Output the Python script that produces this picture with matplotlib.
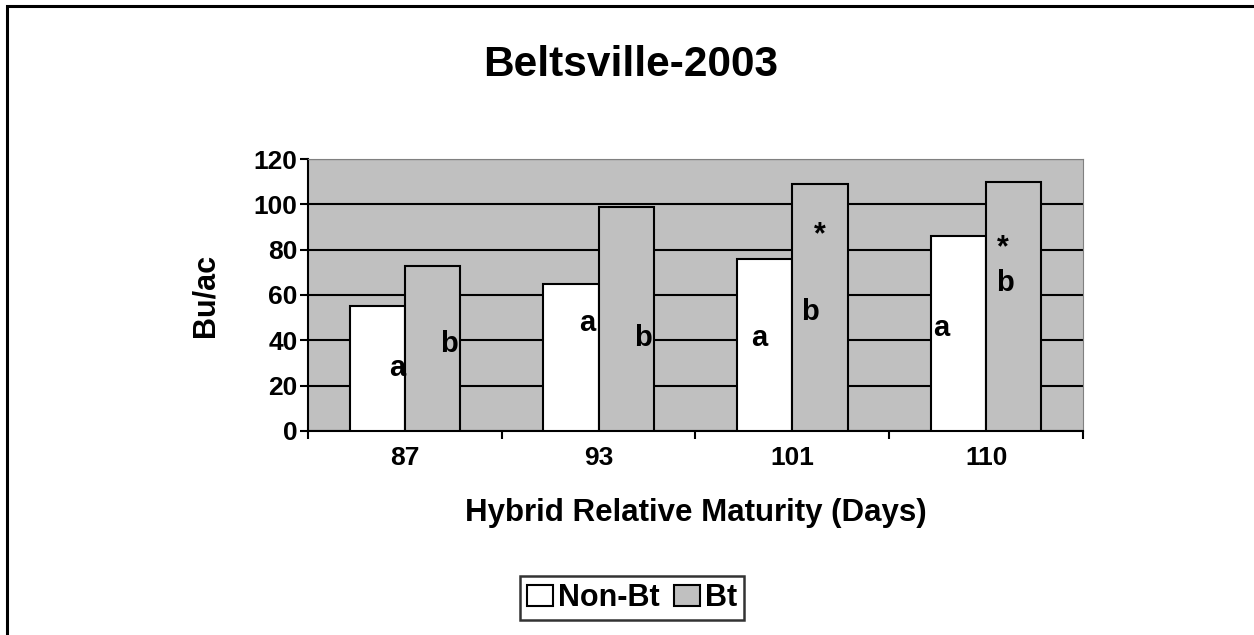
import numpy as np
import matplotlib.pyplot as plt
from matplotlib.patches import Rectangle

plt.rcParams['font.family'] = ['Liberation Sans', 'DejaVu Sans']
plt.rcParams['font.weight'] = 'bold'

maturity = ['87', '93', '101', '110']
non_bt = [55, 65, 76, 86]
bt = [73, 99, 109, 110]

# letters / stars written inside the bars: (x offset from group centre, y value, text)
non_bt_marks = [(-0.04, 27.8, 'a'), (-0.06, 47.5, 'a'), (-0.17, 41, 'a'), (-0.23, 45.4, 'a')]
bt_marks = [(0.23, 38.5, 'b'), (0.23, 41, 'b'), (0.09, 52.5, 'b'), (0.10, 65.3, 'b')]
star_marks = [(2, 0.14, 86.5), (3, 0.085, 80.8)]

fig = plt.figure(figsize=(12.54, 6.35), dpi=100)
ax = fig.add_axes([0.2456, 0.3213, 0.6180, 0.4283])

x = np.arange(len(maturity))
w = 0.2857
ax.set_facecolor('#C0C0C0')
ax.bar(x - w/2, non_bt, w, color='white', edgecolor='black', linewidth=1.5, label='Non-Bt', zorder=3)
ax.bar(x + w/2, bt, w, color='#C0C0C0', edgecolor='black', linewidth=1.5, label='Bt', zorder=3)

for i, (dx, y, t) in enumerate(non_bt_marks):
    ax.text(i + dx, y, t, ha='center', va='center', fontsize=21, fontweight='bold', zorder=4)
for i, (dx, y, t) in enumerate(bt_marks):
    ax.text(i + dx, y, t, ha='center', va='center', fontsize=21, fontweight='bold', zorder=4)
for i, dx, y in star_marks:
    ax.text(i + dx, y, '*', ha='center', va='center', fontsize=22, fontweight='bold', zorder=4)

ax.set_xlim(-0.5, 3.5)
ax.set_ylim(0, 120)
ax.set_yticks(range(0, 121, 20))
ax.yaxis.grid(True, color='black', linewidth=1.5, zorder=1)
ax.set_axisbelow(True)
ax.set_xticks(x)
ax.set_xticklabels(maturity)
ax.set_xticks(np.arange(-0.5, 4, 1), minor=True)
ax.tick_params(axis='x', which='major', length=0, pad=11, labelsize=19)
ax.tick_params(axis='x', which='minor', length=6, width=1.5, direction='out')
ax.tick_params(axis='y', length=6, width=1.5, direction='out', pad=1.5, labelsize=19)
for lab in ax.get_xticklabels() + ax.get_yticklabels():
    lab.set_fontweight('bold')

ax.spines['left'].set_linewidth(1.5)
ax.spines['bottom'].set_linewidth(1.5)
ax.spines['top'].set_color('#808080')
ax.spines['right'].set_color('#808080')

ax.set_xlabel('Hybrid Relative Maturity (Days)', fontsize=22.5, fontweight='bold', labelpad=20)
ax.set_ylabel('Bu/ac', fontsize=22, fontweight='bold', labelpad=24)
fig.text(0.5025, 0.898, 'Beltsville-2003', ha='center', va='center', fontsize=30.5, fontweight='bold')

leg = fig.legend(loc='center', bbox_to_anchor=(0.5040, 0.058), ncol=2, fontsize=22, frameon=True,
                 fancybox=False, edgecolor='black', handlelength=0.85, handleheight=0.7,
                 handletextpad=0.15, columnspacing=0.5, borderpad=0.22)
leg.get_frame().set_linewidth(1.8)
for t in leg.get_texts():
    t.set_fontweight('bold')

fig.patches.append(Rectangle((7/1254, -0.1), 1.2, 0.9906 + 0.1, transform=fig.transFigure,
                             fill=False, edgecolor='black', linewidth=2.2))

fig.savefig('out.png', dpi=100)
